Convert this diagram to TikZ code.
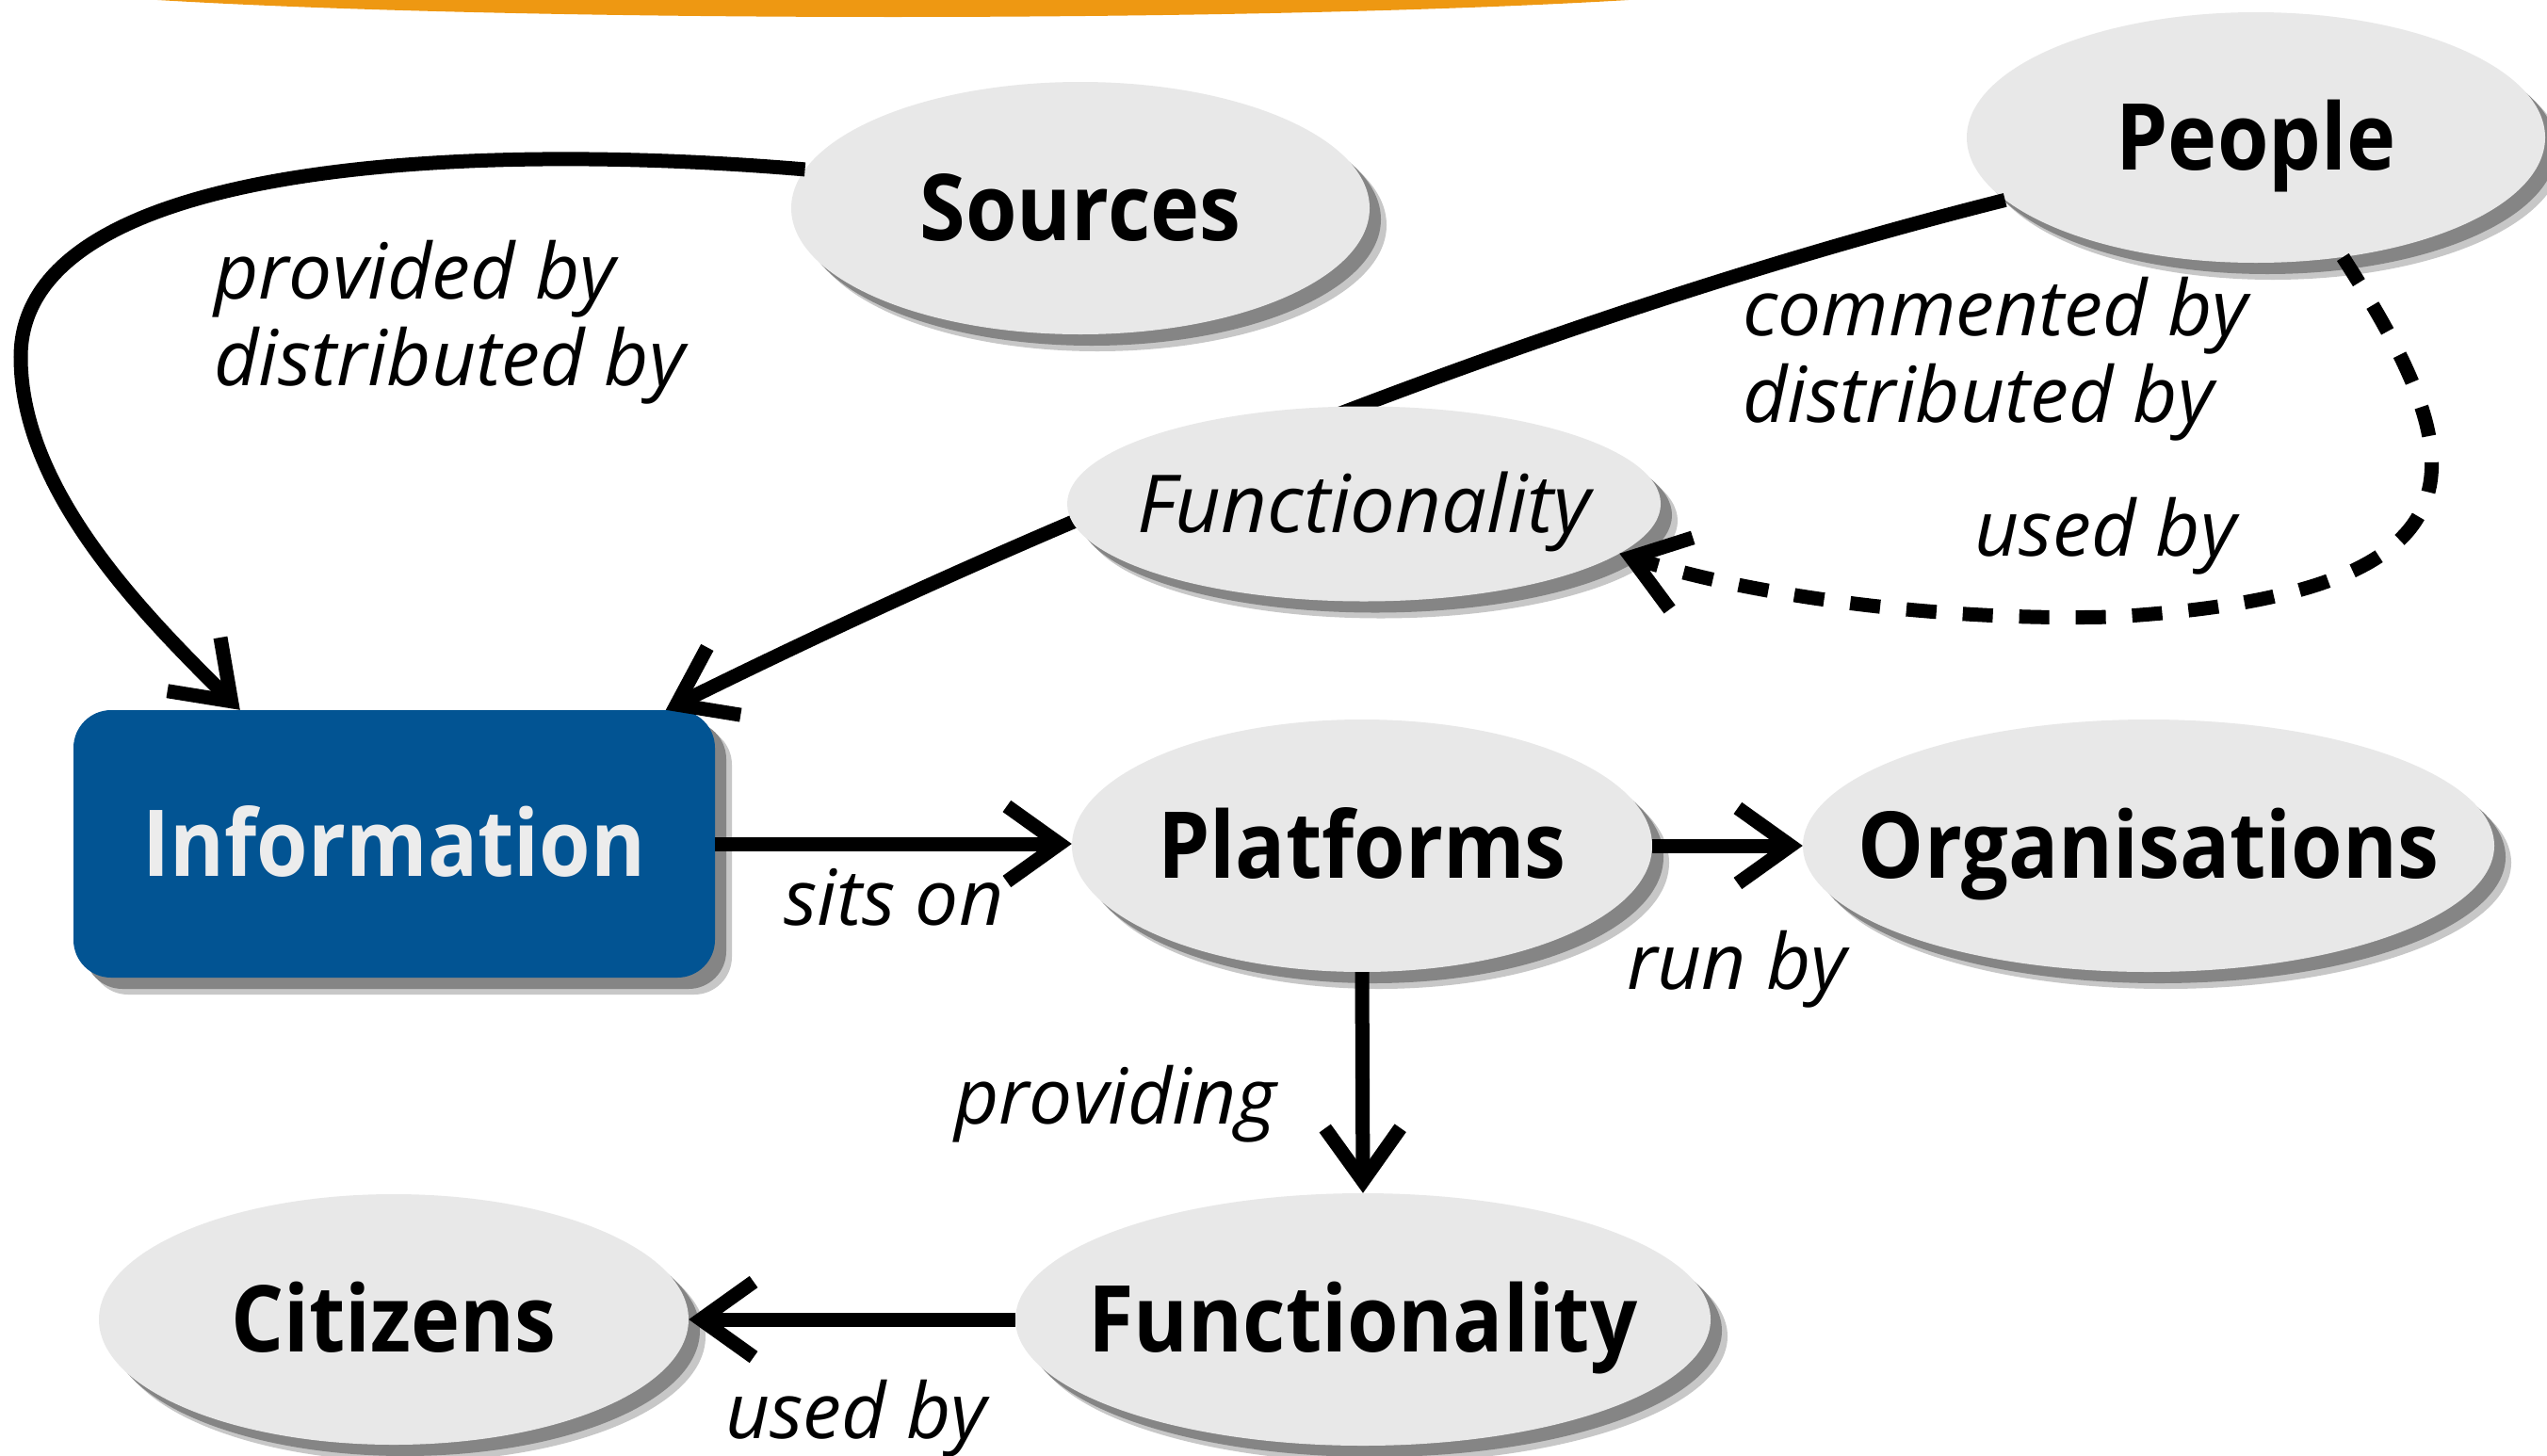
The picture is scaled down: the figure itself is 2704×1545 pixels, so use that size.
\documentclass[tikz,border=0pt]{standalone}
\usepackage{fontspec}
\setmainfont{Open Sans}
\newfontfamily\narrowsans[FakeStretch=0.9]{Open Sans}
\usetikzlibrary{arrows.meta,shapes.geometric,shadows}
\definecolor{ellfill}{RGB}{232,232,232}
\definecolor{infoblue}{RGB}{2,84,147}
\definecolor{infotext}{RGB}{236,236,236}
\definecolor{orng}{RGB}{238,152,18}
% text box of zero width whose height is the cap height, so that the
% shape keeps its given size and the capitals sit centred in it
\newcommand{\zw}[1]{\makebox[0pt]{\smash{#1}}\rule{0pt}{\fontcharht\font`X}}
\begin{document}
\begin{tikzpicture}[x=1pt,y=-1pt,
  shd/.style={drop shadow={shadow xshift=18pt,shadow yshift=-18pt,fill=black!22,opacity=1},
              drop shadow={shadow xshift=12pt,shadow yshift=-12pt,fill=black!48,opacity=1}},
  concept/.style={ellipse, fill=ellfill, shd, inner sep=0pt,
                  font=\narrowsans\fontsize{98}{110}\selectfont\bfseries},
  infobox/.style={rectangle, rounded corners=40pt, fill=infoblue, shd, inner sep=0pt,
                  text=infotext, font=\narrowsans\fontsize{98}{110}\selectfont\bfseries},
  midconcept/.style={ellipse, fill=ellfill, shd, inner sep=0pt,
                  font=\fontsize{85}{92}\selectfont\itshape},
  lbl/.style={inner sep=0pt, font=\fontsize{82}{92}\selectfont\itshape},
  arr/.style={line width=15pt, -{Straight Barb[length=56pt,width=80pt]}},
  dasharr/.style={arr, dash pattern=on 32pt off 28pt}
]
\fill[white] (0,0) rectangle (2704,1545);
\useasboundingbox (0,0) rectangle (2704,1545);

% orange banner at top
\fill[orng] (948,-30) ellipse [x radius=1000pt, y radius=48pt];

% nodes
\node[concept, minimum width=614pt, minimum height=268pt] (src) at (1147,221) {\zw{Sources}};
\node[concept, minimum width=614pt, minimum height=266pt] (ppl) at (2395,146) {\zw{People}};
\node[infobox, minimum width=681pt, minimum height=284pt] (info) at (418.5,896) {\zw{Information}};
\node[concept, minimum width=616pt, minimum height=268pt] (plat) at (1446,898) {\zw{Platforms}};
\node[concept, minimum width=734pt, minimum height=268pt] (org) at (2281,898) {\zw{Organisations}};
\node[concept, minimum width=738pt, minimum height=268pt] (fb) at (1447,1401) {\zw{Functionality}};
\node[concept, minimum width=626pt, minimum height=266pt] (cit) at (418,1401) {\zw{Citizens}};

% People -> Information (passes behind the middle Functionality)
\draw[arr] (ppl.194) .. controls (1700,320) and (1200,510) .. ([xshift=629pt]info.north west);
\node[midconcept, minimum width=630pt, minimum height=207pt] (fs) at (1448,535) {\zw{Functionality}};

% Sources -> Information
\draw[arr] (src.172) .. controls (500,150) and (22,170) .. (22,379)
           .. controls (22,520) and (150,650) .. ([xshift=177pt]info.north west);

% People -> Functionality (dashed)
\draw[dasharr] (ppl.-54) .. controls (2620,480) and (2670,630) .. (2242,655)
           .. controls (2050,660) and (1850,630) .. (fs.-11);

% straight connectors
\draw[arr] (info.east) -- (info.east -| plat.west);
\draw[arr] (plat.east) -- (org.west);
\draw[arr] (plat.south) -- (fb.north);
\draw[arr] (fb.west) -- (cit.east);

% labels
\node[lbl, anchor=base west] (l1a) at (227,317) {provided by};
\node[lbl, anchor=base west] (l1b) at (227,409) {distributed by};
\node[lbl, anchor=base west] (l2a) at (1850,356) {commented by};
\node[lbl, anchor=base west] (l2b) at (1850,448) {distributed by};
\node[lbl, anchor=base east] (l3) at (2374,590) {used by};
\node[lbl, anchor=base west] (l4) at (832,982) {sits on};
\node[lbl, anchor=base west] (l5) at (1727,1050) {run by};
\node[lbl, anchor=base west] (l6) at (1013,1193) {providing};
\node[lbl, anchor=base west] (l7) at (770,1527) {used by};
\end{tikzpicture}
\end{document}
